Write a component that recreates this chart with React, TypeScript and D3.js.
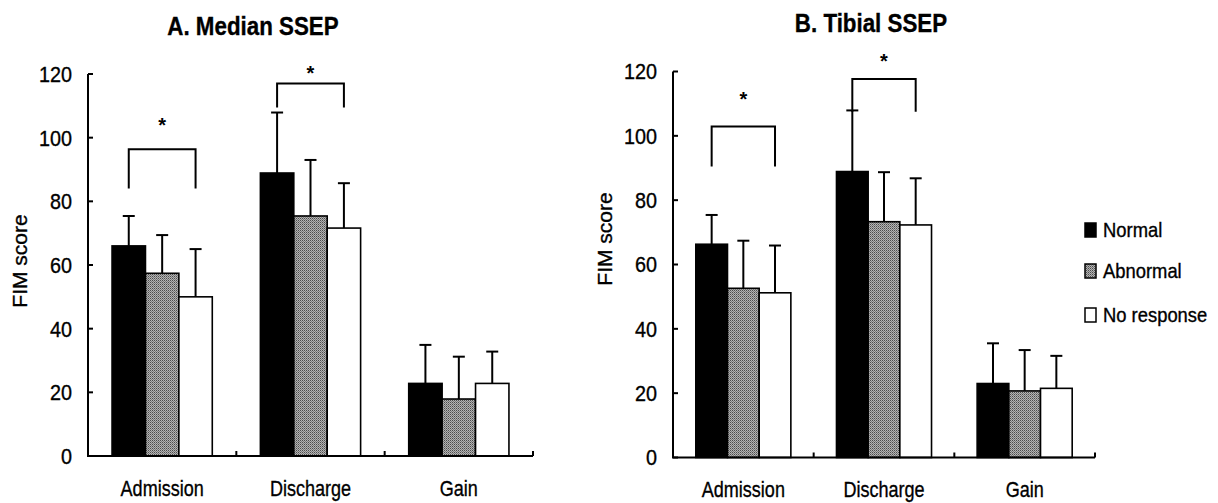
import React from 'react';
import * as d3 from 'd3';

const categories = ['Admission', 'Discharge', 'Gain'];
const series = ['Normal', 'Abnormal', 'No response'];
const yTicks = [0, 20, 40, 60, 80, 100, 120];

// Median SSEP: means and SDs per series (Admission, Discharge, Gain)
const medianNormal = [66, 88.9, 22.8];
const medianAbnormal = [57.4, 75.4, 17.9];
const medianNoResponse = [50, 71.6, 22.8];
const medianNormalSD = [9.4, 19, 12.1];
const medianAbnormalSD = [12, 17.6, 13.3];
const medianNoResponseSD = [15, 14.1, 10];

// Tibial SSEP
const tibialNormal = [66.3, 88.9, 23.0];
const tibialAbnormal = [52.6, 73.3, 20.7];
const tibialNoResponse = [51.2, 72.3, 21.5];
const tibialNormalSD = [9.1, 19, 12.5];
const tibialAbnormalSD = [14.8, 15.4, 12.7];
const tibialNoResponseSD = [14.7, 14.5, 10.1];

// significance brackets: category, bracket top, leg bottom, star
const medianBrackets = [
  { category: 'Admission', top: 96.4, leg: 84, star: 104.6 },
  { category: 'Discharge', top: 117, leg: 109.5, star: 121 },
];
const tibialBrackets = [
  { category: 'Admission', top: 102.9, leg: 90.5, star: 112 },
  { category: 'Discharge', top: 117.7, leg: 107.5, star: 124 },
];

const FONT = '"Liberation Sans", Arial, sans-serif';
const fills = ['#000', 'url(#grain)', '#fff'];

// narrow, slightly heavy text like the scanned figure
function Txt({ x, y, size, sx = 1, anchor = 'start', baseline = undefined, weight = 'normal', rotate = 0, children }) {
  return (
    <text transform={`translate(${x},${y}) rotate(${rotate}) scale(${sx},1)`} textAnchor={anchor}
      dominantBaseline={baseline} fontSize={size} fontWeight={weight} fontFamily={FONT}
      stroke="#000" strokeWidth={0.35}>{children}</text>
  );
}

function Panel({ title, titleX, titleY, left, right, y0, y120, labelX, labelY, means, sds, brackets, labelBase }) {
  const x = d3.scaleBand().domain(categories).range([left, right]);
  const inner = d3.scaleBand().domain(series).range([0, x.bandwidth()]).paddingOuter(0.72);
  const y = d3.scaleLinear().domain([0, 120]).range([y0, y120]);
  const cx = (c, s) => x(c) + inner(s) + inner.bandwidth() / 2;

  return (
    <g>
      <Txt x={titleX} y={titleY} size={26} sx={0.86} anchor="middle" weight="bold">{title}</Txt>
      <Txt x={labelX} y={labelY} size={21} rotate={-90} anchor="middle" baseline="central">FIM score</Txt>

      {series.map((s, si) =>
        categories.map((c, ci) => {
          const m = means[si][ci];
          const top = y(m + sds[si][ci]);
          const xc = cx(c, s);
          return (
            <g key={s + c}>
              <line x1={xc} x2={xc} y1={y(m)} y2={top} stroke="#000" strokeWidth={2} />
              <line x1={xc - 6} x2={xc + 6} y1={top} y2={top} stroke="#000" strokeWidth={2} />
              <rect x={x(c) + inner(s)} y={y(m)} width={inner.bandwidth()} height={y(0) - y(m)}
                fill={fills[si]} stroke="#000" strokeWidth={1.6} />
            </g>
          );
        })
      )}

      {brackets.map(b => {
        const x1 = cx(b.category, series[0]);
        const x2 = cx(b.category, series[2]);
        return (
          <g key={b.category}>
            <path d={`M${x1},${y(b.leg)}V${y(b.top)}H${x2}V${y(b.leg)}`} fill="none" stroke="#000" strokeWidth={2} />
            <text x={(x1 + x2) / 2} y={y(b.star) + 9} textAnchor="middle" fontSize={20} fontWeight="bold" fontFamily={FONT}>*</text>
          </g>
        );
      })}

      {/* axes */}
      <path d={`M${left},${y(120)}V${y(0)}H${right}`} fill="none" stroke="#000" strokeWidth={2} />
      {yTicks.map(t => (
        <g key={t}>
          <line x1={left} x2={left + 5} y1={y(t)} y2={y(t)} stroke="#000" strokeWidth={2} />
          <Txt x={left - 16} y={y(t)} size={22} sx={0.9} anchor="end" baseline="central">{t}</Txt>
        </g>
      ))}
      {categories.map(c => (
        <g key={c}>
          <line x1={x(c) + x.bandwidth()} x2={x(c) + x.bandwidth()} y1={y(0)} y2={y(0) - 5} stroke="#000" strokeWidth={2} />
          <Txt x={x(c) + x.bandwidth() / 2} y={labelBase} size={22} sx={0.82} anchor="middle">{c}</Txt>
        </g>
      ))}
    </g>
  );
}

export default function App() {
  return (
    <svg width={1218} height={503} style={{ position: 'absolute', left: 0, top: 0, background: '#fff' }}>
      <defs>
        <pattern id="grain" width={2} height={2} patternUnits="userSpaceOnUse">
          <rect width={2} height={2} fill="#b4b4b4" />
          <rect width={1} height={1} fill="#4c4c4c" />
          <rect x={1} y={1} width={1} height={1} fill="#7a7a7a" />
        </pattern>
      </defs>
      <rect width={1218} height={503} fill="#fff" />
      <Panel title="A. Median SSEP" titleX={253} titleY={35} left={88} right={533} y0={456} y120={74}
        labelX={19} labelY={261} labelBase={496}
        means={[medianNormal, medianAbnormal, medianNoResponse]}
        sds={[medianNormalSD, medianAbnormalSD, medianNoResponseSD]}
        brackets={medianBrackets} />
      <Panel title="B. Tibial SSEP" titleX={871} titleY={32} left={673} right={1095} y0={457.5} y120={71.5}
        labelX={604} labelY={239} labelBase={497}
        means={[tibialNormal, tibialAbnormal, tibialNoResponse]}
        sds={[tibialNormalSD, tibialAbnormalSD, tibialNoResponseSD]}
        brackets={tibialBrackets} />
      {series.map((s, i) => {
        const top = [223, 264, 308][i];
        return (
          <g key={s}>
            <rect x={1085} y={top} width={11} height={14} fill={fills[i]} stroke="#000" strokeWidth={1.5} />
            <Txt x={1103} y={top + 14} size={20} sx={0.92}>{s}</Txt>
          </g>
        );
      })}
    </svg>
  );
}
